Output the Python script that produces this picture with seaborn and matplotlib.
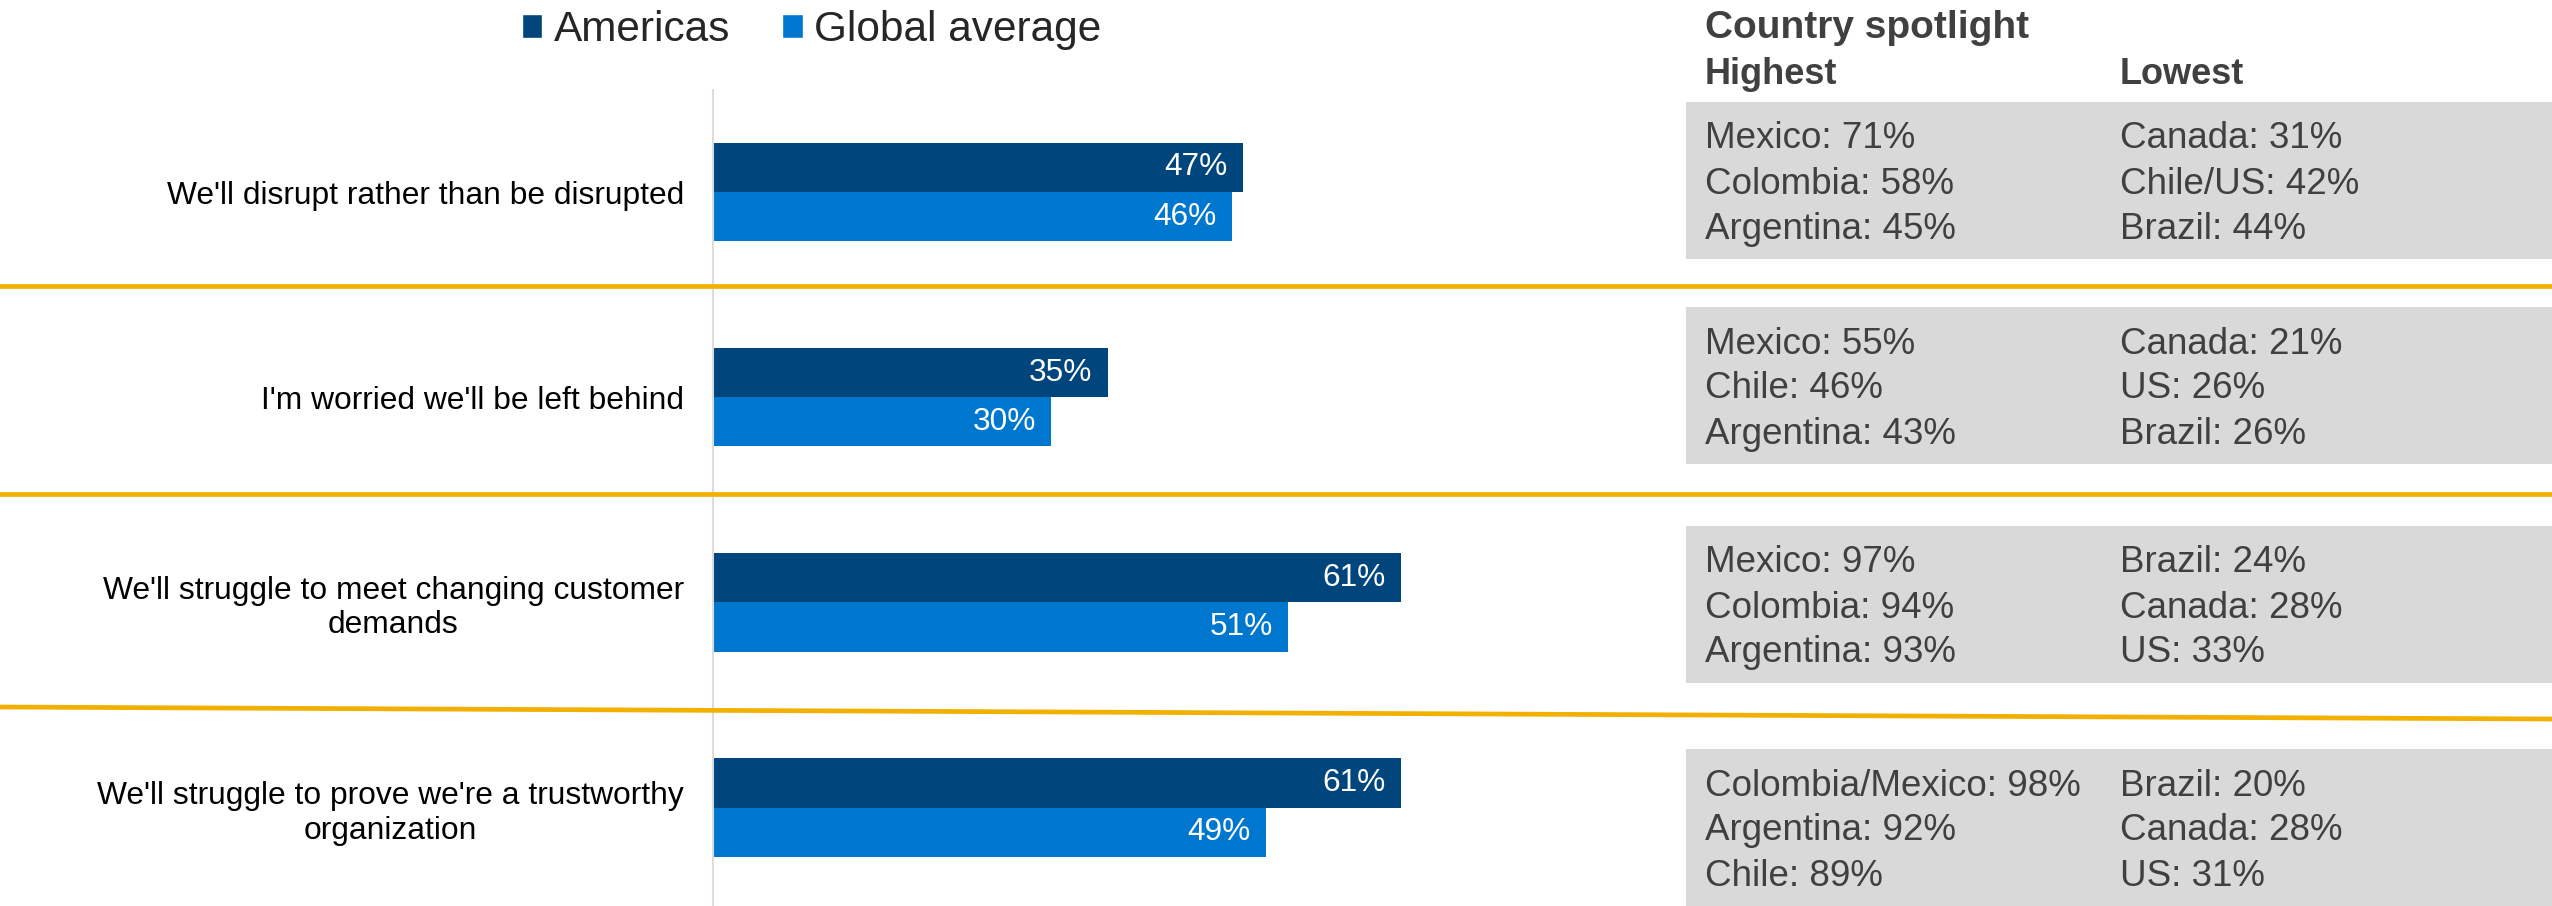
import matplotlib
matplotlib.use("Agg")
import matplotlib.pyplot as plt
from matplotlib.patches import Rectangle, Patch
from matplotlib.lines import Line2D
import seaborn as sns
import pandas as pd

# ---- data -------------------------------------------------------------
statements = [
    "We'll disrupt rather than be disrupted",
    "I'm worried we'll be left behind",
    "We'll struggle to meet changing customer\ndemands",
    "We'll struggle to prove we're a trustworthy\norganization",
]
series_names = ["Americas", "Global average"]
americas = [47, 35, 61, 61]
global_avg = [46, 30, 51, 49]

spotlight_high = [
    [("Mexico", 71), ("Colombia", 58), ("Argentina", 45)],
    [("Mexico", 55), ("Chile", 46), ("Argentina", 43)],
    [("Mexico", 97), ("Colombia", 94), ("Argentina", 93)],
    [("Colombia/Mexico", 98), ("Argentina", 92), ("Chile", 89)],
]
spotlight_low = [
    [("Canada", 31), ("Chile/US", 42), ("Brazil", 44)],
    [("Canada", 21), ("US", 26), ("Brazil", 26)],
    [("Brazil", 24), ("Canada", 28), ("US", 33)],
    [("Brazil", 20), ("Canada", 28), ("US", 31)],
]

# ---- styling ----------------------------------------------------------
DARK = "#00457C"
LIGHT = "#0077CF"
GOLD = "#F2B000"
BOX = "#D9D9D9"
GREY_TXT = "#404040"

sns.set_theme(style="white")
plt.rcParams["font.family"] = ["Liberation Sans", "DejaVu Sans"]

W, H = 2552, 906
fig = plt.figure(figsize=(W / 100, H / 100), dpi=100)


def fx(px):
    return px / W


def fy(py):
    return 1 - py / H


df = pd.DataFrame({
    "statement": statements * 2,
    "series": [series_names[0]] * 4 + [series_names[1]] * 4,
    "value": americas + global_avg,
})

ax_left, ax_top = 713, 89.5
ax = fig.add_axes([fx(ax_left), 0, 1 - fx(ax_left), 1 - ax_top / H])
sns.barplot(data=df, y="statement", x="value", hue="series", orient="h",
            palette=[DARK, LIGHT], width=0.48, linewidth=0, saturation=1,
            legend=False, ax=ax)

ax.set_xlim(0, (W - ax_left) / 11.28)
ax.set_ylim(3.48, -0.5)
ax.set_xlabel("")
ax.set_ylabel("")
ax.set_xticks([])
for side in ["top", "right", "bottom"]:
    ax.spines[side].set_visible(False)
ax.spines["left"].set_color("#DCDCDC")
ax.spines["left"].set_linewidth(1.5)
ax.tick_params(axis="y", length=0, pad=21)
for lab in ax.get_yticklabels():
    lab.set_fontsize(22.9)
    lab.set_color("black")
    lab.set_multialignment("center")

# value labels inside bar ends
for cont in ax.containers:
    for bar in cont:
        v = bar.get_width()
        yc = bar.get_y() + bar.get_height() / 2
        ax.annotate(f"{v:.0f}%", xy=(v, yc), xytext=(-11, 0),
                    textcoords="offset points", ha="right", va="center",
                    color="white", fontsize=22.8)

# legend
handles = [Patch(facecolor=DARK), Patch(facecolor=LIGHT)]
fig.legend(handles, series_names, loc="center left",
           bbox_to_anchor=(fx(522), fy(30)), ncol=2, frameon=False,
           fontsize=30.5, handlelength=0.48, handleheight=0.48,
           handletextpad=0.28, columnspacing=1.22, borderpad=0,
           borderaxespad=0)

# gold separators
for (y0, y1) in [(286, 286), (494, 494), (707, 719)]:
    fig.add_artist(Line2D([0, 1], [fy(y0), fy(y1)], color=GOLD,
                          linewidth=3.4, transform=fig.transFigure, zorder=3))

# country spotlight panel
fig.text(fx(1705), fy(28), "Country spotlight", fontsize=28,
         fontweight="bold", color=GREY_TXT, va="center", ha="left")
fig.text(fx(1705), fy(75), "Highest", fontsize=26, fontweight="bold",
         color=GREY_TXT, va="center", ha="left")
fig.text(fx(2120), fy(75), "Lowest", fontsize=26, fontweight="bold",
         color=GREY_TXT, va="center", ha="left")

box_tops = [102, 307, 526, 749]
box_h = 157
for top, highs, lows in zip(box_tops, spotlight_high, spotlight_low):
    fig.add_artist(Rectangle((fx(1686), fy(top + box_h)), 1 - fx(1686),
                             box_h / H, transform=fig.transFigure,
                             facecolor=BOX, edgecolor="none", zorder=1))
    for i, ((hc, hv), (lc, lv)) in enumerate(zip(highs, lows)):
        yy = fy(top + 37 + 45 * i)
        fig.text(fx(1705), yy, f"{hc}: {hv}%", fontsize=26.5,
                 color=GREY_TXT, va="center", ha="left", zorder=2)
        fig.text(fx(2120), yy, f"{lc}: {lv}%", fontsize=26.5,
                 color=GREY_TXT, va="center", ha="left", zorder=2)

fig.savefig("out.png", dpi=100)
